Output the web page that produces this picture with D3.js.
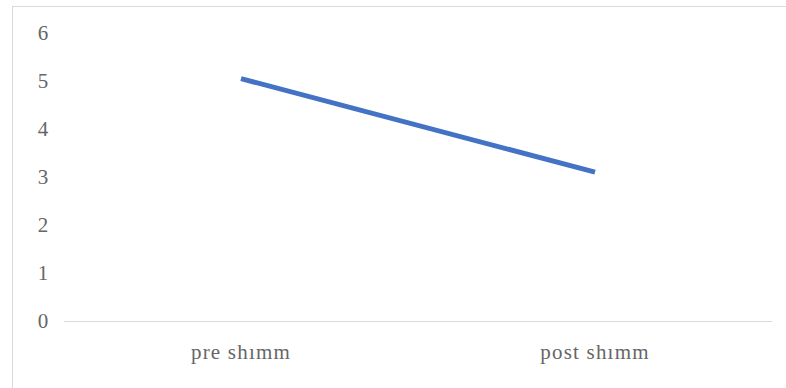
<!DOCTYPE html>
<html>
<head>
<meta charset="utf-8">
<script src="https://cdn.jsdelivr.net/npm/d3@7"></script>
<style>
  html, body { margin: 0; padding: 0; background: #fff; }
  svg { display: block; }
</style>
</head>
<body>
<svg id="chart" width="786" height="388"></svg>
<script>
// Chart data
const categories = ["pre shımm", "post shımm"];
const values = [5.05, 3.1];
const yTicks = [0, 1, 2, 3, 4, 5, 6];

const W = 786, H = 388;
const svg = d3.select("#chart");

// Outer frame (top and left edges visible, others run off the canvas)
svg.append("rect")
  .attr("x", 12.5).attr("y", 6.5)
  .attr("width", W + 10).attr("height", H + 10)
  .attr("fill", "#fff")
  .attr("stroke", "#d9d9d9").attr("stroke-width", 1);

const x = d3.scalePoint()
  .domain(categories)
  .range([64, 772])
  .padding(0.5);

const y = d3.scaleLinear()
  .domain([0, 6])
  .range([321, 33]);

const font = "'Liberation Serif', 'Times New Roman', serif";

// Y tick labels
svg.append("g")
  .selectAll("text")
  .data(yTicks)
  .join("text")
  .attr("x", 43)
  .attr("y", d => y(d))
  .attr("dy", "0.35em")
  .attr("text-anchor", "middle")
  .attr("font-family", font)
  .attr("font-size", 21)
  .attr("fill", "#666")
  .text(d => d);

// X axis baseline
svg.append("line")
  .attr("x1", 64).attr("x2", 772)
  .attr("y1", y(0) + 0.5).attr("y2", y(0) + 0.5)
  .attr("stroke", "#d9d9d9").attr("stroke-width", 1);

// Category labels
svg.append("g")
  .selectAll("text")
  .data(categories)
  .join("text")
  .attr("x", d => x(d))
  .attr("y", 352)
  .attr("dy", "0.35em")
  .attr("text-anchor", "middle")
  .attr("font-family", font)
  .attr("font-size", 21)
  .attr("letter-spacing", 1.2)
  .attr("fill", "#666")
  .text(d => d);

// Series line
const line = d3.line()
  .x((d, i) => x(categories[i]))
  .y(d => y(d));

svg.append("path")
  .datum(values)
  .attr("d", line)
  .attr("fill", "none")
  .attr("stroke", "#4472c4")
  .attr("stroke-width", 5)
  .attr("stroke-linecap", "butt");
</script>
</body>
</html>
